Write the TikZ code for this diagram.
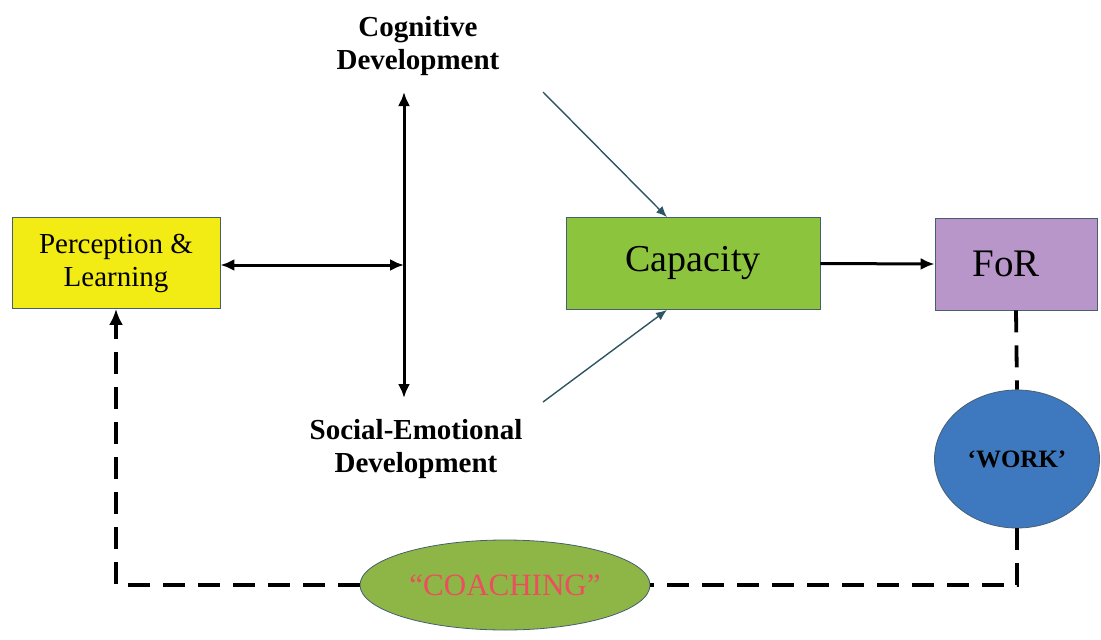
\documentclass[tikz,border=0pt]{standalone}
\usepackage{fontspec}
\setmainfont{Liberation Serif}
\usetikzlibrary{positioning, arrows.meta, shapes.geometric}

\definecolor{percyellow}{RGB}{242,236,20}
\definecolor{capgreen}{RGB}{141,196,62}
\definecolor{forpurple}{RGB}{184,150,202}
\definecolor{workblue}{RGB}{62,121,192}
\definecolor{coachgreen}{RGB}{142,182,70}
\definecolor{coachred}{RGB}{236,78,96}
\definecolor{edgegray}{RGB}{70,95,110}
\definecolor{thinline}{RGB}{45,85,100}

\begin{document}
\begin{tikzpicture}[x=1pt,y=-1pt,
    box/.style={draw=edgegray, line width=0.8pt, align=center, inner sep=0pt},
    oval/.style={ellipse, draw=edgegray, line width=0.8pt, inner sep=0pt, align=center},
    devlabel/.style={align=center, font=\fontsize{29}{33}\selectfont\bfseries},
    solidarrow/.style={line width=3pt, {Latex[length=14pt,width=12pt]}-{Latex[length=14pt,width=12pt]}},
    onearrow/.style={line width=3pt, -{Latex[length=14pt,width=12pt]}},
    thinarrow/.style={thinline, line width=1.4pt, -{Latex[length=11pt,width=9pt]}},
    dashline/.style={line width=3.8pt, dash pattern=on 22pt off 13pt}]
    \useasboundingbox (0,0) rectangle (1101,640);
    % Boxes
    \node[box, fill=percyellow, minimum width=208pt, minimum height=91pt,
        font=\fontsize{29}{33}\selectfont] (perc) at (116,263) {Perception \&\\Learning};
    \node[box, fill=capgreen, minimum width=254pt, minimum height=92pt,
        font=\fontsize{38}{40}\selectfont] (cap) at (693,263.5) {Capacity};
    \node[box, fill=forpurple, minimum width=162pt, minimum height=92pt,
        font=\fontsize{39}{40}\selectfont] (for) at (1016,264) {\hspace*{-20pt}FoR};
    % Ovals
    \node[oval, fill=workblue, minimum width=165pt, minimum height=138pt,
        font=\fontsize{25}{26}\selectfont\bfseries] (work) at (1017,459) {`WORK'};
    \node[oval, fill=coachgreen, minimum width=290pt, minimum height=90pt,
        text=coachred, font=\fontsize{31}{33}\selectfont] (coach) at (505,585) {``COACHING''};
    % Labels
    \node[devlabel] (cog) at (418,46) {Cognitive\\Development};
    \node[devlabel] (soc) at (416,449) {Social-Emotional\\Development};
    % Points on the vertical line
    \coordinate (cogtip) at (404,92);
    \coordinate (soctip) at (404,398);
    \coordinate (junction) at (404,265);
    \coordinate (cogline) at (543,92);
    \coordinate (socline) at (543,402);
    % Solid arrows
    \draw[solidarrow] (cogtip) -- (soctip);
    \draw[solidarrow] (perc.east |- junction) -- (junction);
    \draw[onearrow] (cap.east) -- (for.west);
    \draw[thinarrow] (cogline) -- ([xshift=-26pt]cap.north);
    \draw[thinarrow] (socline) -- ([xshift=-26pt]cap.south);
    % Feedback loop
    \draw[dashline] (for.south) -- (work.north);
    \draw[dashline] (work.south) |- (coach.east);
    \draw[dashline, -{Latex[length=16pt,width=14pt]}] (coach.west) -| (perc.south);
\end{tikzpicture}
\end{document}
